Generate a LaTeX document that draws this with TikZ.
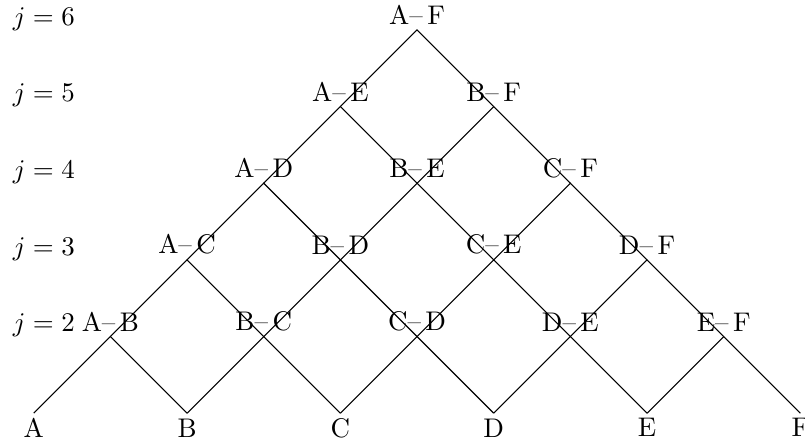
\documentclass[tikz,border=0pt]{standalone}
\usepackage{tikz}
\tikzset{
  pairlbl/.style={anchor=south, inner sep=1.8pt},
  leaflbl/.style={anchor=north, inner sep=1.8pt},
  levellbl/.style={anchor=base west, inner sep=0pt},
  branch/.style={thin, black}
}
% letter for a leaf index 0..5
\newcommand{\leafname}[1]{\ifcase#1 A\or B\or C\or D\or E\or F\fi}

\begin{document}
\begin{tikzpicture}
\useasboundingbox (-0.44,-0.35) rectangle (10.06,5.39);
% branch points, one per pair i--k on level j
\foreach \j in {1,...,6} {
  \pgfmathtruncatemacro{\last}{6-\j}
  \foreach \i in {0,...,\last}
    \coordinate (v\i-\j) at ({2*\i+\j-1},{\j-1});
}
% leaves
\foreach \i in {0,...,5}
  \node[leaflbl] (leaf\i) at (v\i-1) {\leafname{\i}};
% pair labels and the two branches below each
\foreach \j in {2,...,6} {
  \pgfmathtruncatemacro{\last}{6-\j}
  \pgfmathtruncatemacro{\jm}{\j-1}
  \node[levellbl] (lev\j) at (-0.28,{\j-1+0.063}) {$j=\j$};
  \foreach \i in {0,...,\last} {
    \pgfmathtruncatemacro{\k}{\i+\j-1}
    \pgfmathtruncatemacro{\ip}{\i+1}
    \node[pairlbl] (p\i-\j) at (v\i-\j) {\leafname{\i}--\,\leafname{\k}};
    \draw[branch] (v\i-\jm) -- (v\i-\j) -- (v\ip-\jm);
  }
}
\end{tikzpicture}
\end{document}
